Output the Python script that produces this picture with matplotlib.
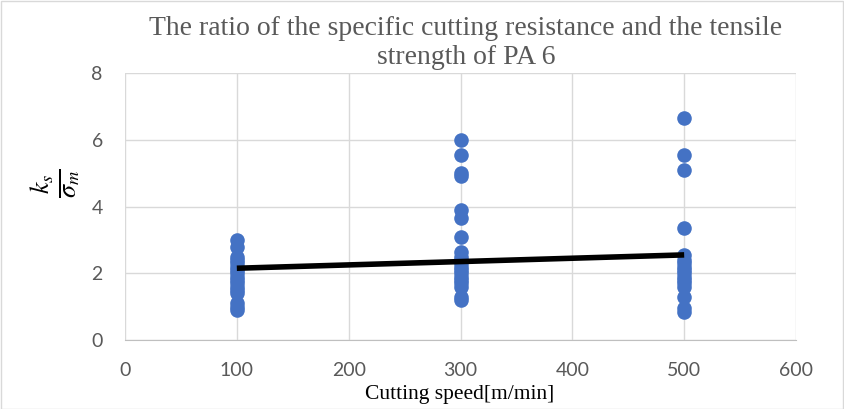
import matplotlib
matplotlib.use("Agg")
import matplotlib.pyplot as plt
from matplotlib.patches import Rectangle

plt.rcParams["mathtext.fontset"] = "stix"

speed_100 = [3.0, 2.8, 2.5, 2.4, 2.3, 2.2, 2.1, 2.0, 1.9, 1.8, 1.7, 1.6, 1.5, 1.4, 1.1, 1.0, 0.9]
speed_300 = [6.0, 5.55, 5.0, 4.9, 3.9, 3.65, 3.1, 2.65, 2.5, 2.4, 2.3, 2.2, 2.1, 2.0, 1.9, 1.8, 1.7, 1.6, 1.3, 1.2]
speed_500 = [6.65, 5.55, 5.1, 3.35, 2.55, 2.4, 2.3, 2.2, 2.1, 2.0, 1.9, 1.8, 1.7, 1.6, 1.3, 0.95, 0.85]
speeds = [100, 300, 500]
trend_x = [100, 500]
trend_y = [2.15, 2.55]
x_ticks = [0, 100, 200, 300, 400, 500, 600]
y_ticks = [0, 2, 4, 6, 8]

W, H = 844, 409
fig = plt.figure(figsize=(W / 100, H / 100), dpi=100)
ax = fig.add_axes([125 / W, 1 - 340 / H, (796 - 125) / W, (340 - 73) / H])

blue = "#4472C4"
for s, vals in zip(speeds, [speed_100, speed_300, speed_500]):
    ax.scatter([s] * len(vals), vals, s=110, color=blue, zorder=3, linewidths=0)
ax.plot(trend_x, trend_y, color="black", lw=4, zorder=4, solid_capstyle="butt")

ax.set_xlim(0, 600)
ax.set_ylim(0, 8)
ax.set_xticks(x_ticks)
ax.set_yticks(y_ticks)
ax.grid(True, color="#D9D9D9", lw=1)
ax.set_axisbelow(True)
for sp in ax.spines.values():
    sp.set_visible(False)
ax.spines["bottom"].set_visible(True)
ax.spines["bottom"].set_color("#BFBFBF")
ax.tick_params(length=0, labelsize=14, labelcolor="#595959")
ax.tick_params(axis="x", pad=16)
ax.tick_params(axis="y", pad=16)
for lab in ax.get_xticklabels() + ax.get_yticklabels():
    lab.set_family("Lato")

fig.text(460 / W, 1 - 394 / H, "Cutting speed[m/min]", family="Liberation Serif", fontsize=15.5,
         color="black", ha="center", va="center")
fig.text(56 / W, 1 - 183 / H, r"$\frac{k_s}{\sigma_m}$", fontsize=27, color="black",
         ha="center", va="center", rotation=90)

fig.text(466 / W, 1 - 43 / H, "The ratio of the specific cutting resistance and the tensile\nstrength of PA 6",
         family="Liberation Serif", fontsize=20, color="#595959", ha="center", va="center", linespacing=1.2)

fig.patches.append(Rectangle((0.5 / W, 0.5 / H), 1 - 1.5 / W, 1 - 1.5 / H, transform=fig.transFigure,
                             fill=False, edgecolor="#D9D9D9", lw=1))
fig.savefig("out.png", dpi=100)
